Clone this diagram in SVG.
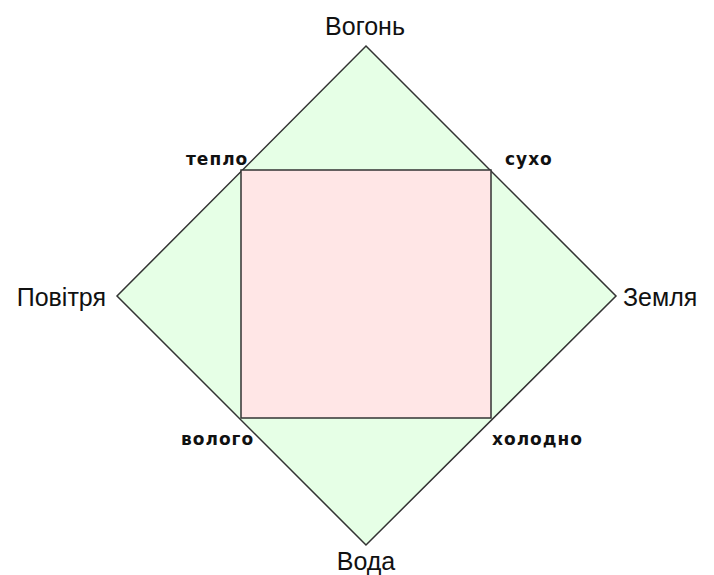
<svg xmlns="http://www.w3.org/2000/svg" width="714" height="575" viewBox="0 0 714 575">
<style>
.shape{stroke:#333;stroke-width:1.5;stroke-linejoin:miter}
.el{font-family:"Liberation Sans",Arial,sans-serif;font-size:25px;fill:#111}
.q{font-family:"DejaVu Sans",sans-serif;font-size:17px;font-weight:bold;letter-spacing:1px;fill:#111}
</style>
<rect width="714" height="575" fill="#fff"/>
<g id="diamond"><polygon class="shape" points="366,46 616,296 366,545 117,296" fill="#e6ffe6"/></g>
<g id="square"><rect class="shape" x="241" y="170" width="250" height="248" fill="#ffe6e6"/></g>
<g id="labels">
<text class="el" x="365" y="35" text-anchor="middle">Вогонь</text>
<text class="el" x="106" y="306" text-anchor="end">Повітря</text>
<text class="el" x="623" y="306">Земля</text>
<text class="el" x="366" y="570" text-anchor="middle">Вода</text>
<text class="q" x="186" y="165">тепло</text>
<text class="q" x="505" y="165">сухо</text>
<text class="q" x="181" y="445">волого</text>
<text class="q" x="492" y="445">холодно</text>
</g>
</svg>
